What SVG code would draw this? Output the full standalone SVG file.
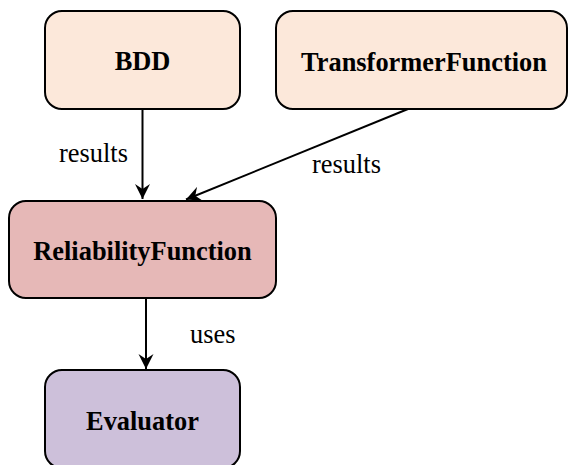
<svg xmlns="http://www.w3.org/2000/svg" width="568" height="465" viewBox="0 0 568 465">
<defs>
<style>
.node rect{stroke:#000;stroke-width:2}
.t{font-family:"Liberation Serif","Times New Roman",serif;font-weight:bold;font-size:26.4px;text-anchor:middle;fill:#000}
.l{font-family:"Liberation Serif","Times New Roman",serif;font-size:26.4px;fill:#000}
.edge{stroke:#000;stroke-width:2;fill:none;marker-end:url(#ah)}
</style>
<marker id="ah" markerUnits="userSpaceOnUse" markerWidth="16" markerHeight="16" viewBox="-15 -8 16 16" refX="0" refY="0" orient="auto">
<path d="M0,0 L-15,-7.5 L-10,0 L-15,7.5 Z" fill="#000"/>
</marker>
</defs>
<g id="connectors">
<path class="edge" d="M142.5,109 L142.5,199"/>
<path class="edge" d="M408,109 L186,199.5"/>
<path class="edge" d="M146,298 L146,369"/>
<text class="l" x="59" y="162">results</text>
<text class="l" x="312" y="173">results</text>
<text class="l" x="190" y="343">uses</text>
</g>
<g id="BDD" class="node">
<rect x="45" y="11" width="195" height="98" rx="17" fill="#FCE8DA"/>
<text class="t" x="142.5" y="70">BDD</text>
</g>
<g id="TransformerFunction" class="node">
<rect x="276" y="11" width="291" height="98" rx="17" fill="#FCE8DA"/>
<text class="t" x="424" y="71">TransformerFunction</text>
</g>
<g id="ReliabilityFunction" class="node">
<rect x="9" y="201" width="267" height="97" rx="17" fill="#E6B8B7"/>
<text class="t" x="142.5" y="260">ReliabilityFunction</text>
</g>
<g id="Evaluator" class="node">
<rect x="45" y="370" width="195" height="98" rx="17" fill="#CDC0DA"/>
<text class="t" x="142.5" y="430">Evaluator</text>
</g>
</svg>
